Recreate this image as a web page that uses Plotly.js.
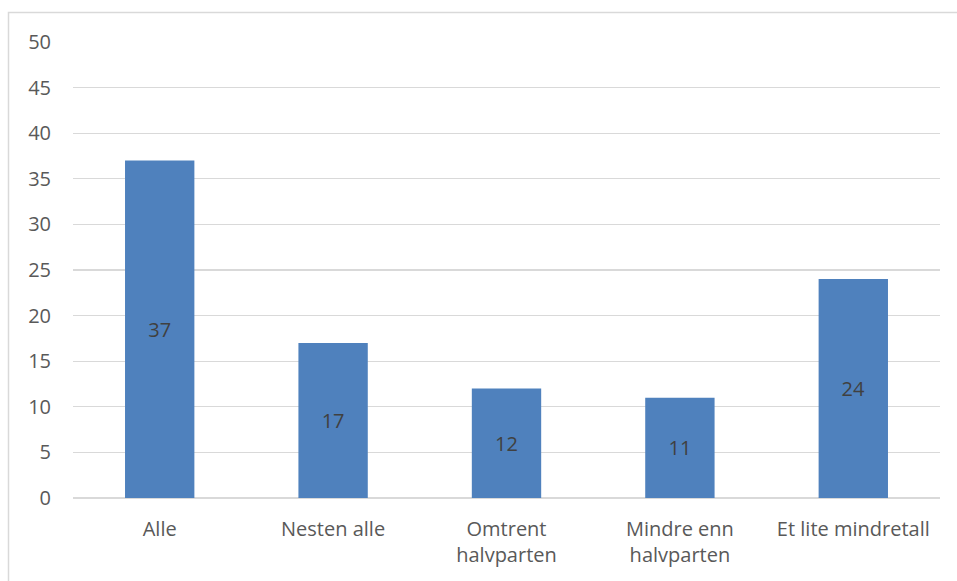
<!DOCTYPE html>
<html><head><meta charset="utf-8">
<script src="https://cdn.plot.ly/plotly-3.0.1.min.js"></script>
<style>html,body{margin:0;padding:0;background:#fff}#chart{width:957px;height:581px}</style>
</head><body><div id="chart"></div>
<script>
const categories = ["Alle", "Nesten alle", "Omtrent<br>halvparten", "Mindre enn<br>halvparten", "Et lite mindretall"];
const values = [37, 17, 12, 11, 24];
const yTicks = [0, 5, 10, 15, 20, 25, 30, 35, 40, 45, 50];

const W = 957, H = 581, L = 73, R = 17, T = 42, B = 83;
const pw = W - L - R, ph = H - T - B;
const px = x => (x - L) / pw;
const py = y => (H - B - y) / ph;
const FONT = '"Open Sans", "Noto Sans", sans-serif';

Plotly.newPlot('chart', [{
  type: 'bar',
  x: categories,
  y: values,
  marker: {color: '#4F81BD'},
  text: values.map(String),
  textposition: 'inside',
  insidetextanchor: 'middle',
  textfont: {family: FONT, size: 20, color: '#404040'},
  hoverinfo: 'none'
}], {
  width: W, height: H,
  margin: {l: L, r: R, t: T, b: B, pad: 0},
  paper_bgcolor: '#fff', plot_bgcolor: '#fff',
  bargap: 0.6,
  showlegend: false,
  font: {family: FONT, size: 20, color: '#595959'},
  xaxis: {
    type: 'category', showgrid: false, zeroline: false, showline: false,
    ticks: '', ticklen: 0, tickfont: {family: FONT, size: 20, color: '#595959'},
    ticklabelstandoff: 17, fixedrange: true
  },
  yaxis: {
    range: [0, 50], tickvals: yTicks, ticktext: yTicks.map(String),
    showgrid: true, gridcolor: '#D9D9D9', gridwidth: 1.3,
    zeroline: true, zerolinecolor: '#D9D9D9', zerolinewidth: 1.3,
    showline: false, ticks: '', tickfont: {family: FONT, size: 20, color: '#595959'},
    ticklabelstandoff: 21, fixedrange: true
  },
  shapes: [{
    type: 'rect', xref: 'paper', yref: 'paper',
    x0: px(8.5), x1: px(970), y0: py(600), y1: py(12.5),
    line: {color: '#D9D9D9', width: 1.5}, fillcolor: 'rgba(0,0,0,0)', layer: 'below'
  }]
}, {staticPlot: true});
</script></body></html>
